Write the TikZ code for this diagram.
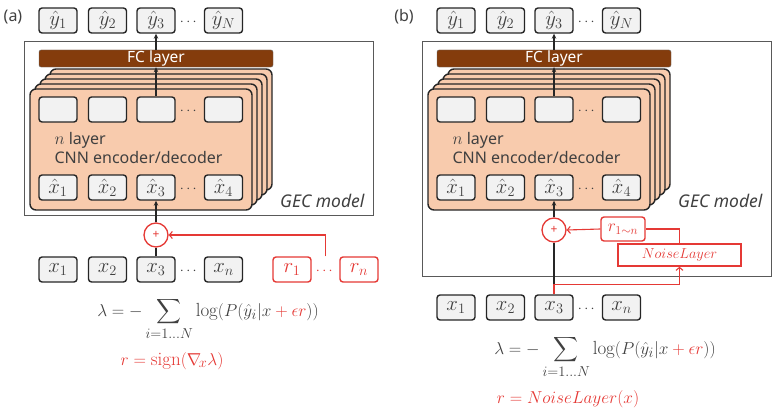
\documentclass[tikz,border=0pt]{standalone}
\usepackage{fontspec}
\setsansfont{Noto Sans}
\usepackage{amsmath}
\usetikzlibrary{arrows.meta}
\definecolor{peach}{HTML}{F8CBAD}
\definecolor{fcbrown}{HTML}{843C0C}
\definecolor{advred}{HTML}{E53935}
\definecolor{inkgray}{HTML}{404040}

\begin{document}
\begin{tikzpicture}[
        x=1pt, y=-1pt,
        every node/.style={text=inkgray},
        token/.style={
          draw=black!85, line width=1.4pt, rounded corners=3pt,
          fill=black!5, minimum width=38pt, minimum height=25pt,
          inner sep=0pt, font=\fontsize{20}{22}\selectfont,
        },
        noise token/.style={
          token, draw=advred, fill=white, text=advred,
        },
        layer sheet/.style={
          draw=black!85, line width=1.4pt, rounded corners=6pt, fill=peach,
        },
        fc layer/.style={
          draw=black!60, fill=fcbrown, rounded corners=2pt, text=white,
          minimum width=234pt, minimum height=17pt, inner sep=0pt,
          font=\sffamily\fontsize{15.5}{17}\selectfont,
        },
        model box/.style={
          draw=black!65, line width=1pt,
        },
        adder/.style={
          circle, draw=advred, line width=1.3pt, fill=white, text=advred,
          minimum size=24pt, inner sep=0pt,
          font=\sffamily\fontsize{12}{13}\selectfont,
        },
        flow/.style={
          draw=black!85, line width=1.1pt, -{Stealth[length=5pt, width=4.5pt]},
        },
        noise flow/.style={
          draw=advred, line width=1.1pt, -{Straight Barb[length=3pt, width=7pt]},
        },
        plain text/.style={
          font=\sffamily\fontsize{16}{19}\selectfont,
        },
        dots/.style={
          inner sep=0pt, font=\fontsize{15}{17}\selectfont,
        },
        formula/.style={
          font=\fontsize{19}{22}\selectfont,
        },
        ]
        \useasboundingbox (0,0) rectangle (773,412);

        % (a) adversarial perturbation
        \node [plain text] (taga) at (13,17) {(a)};
        \draw [model box] (24,42) rectangle (373,215);
        \node [token] (ya1) at (58,20.5) {$\hat{y}_1$};
        \node [token] (ya2) at (107.5,20.5) {$\hat{y}_2$};
        \node [token] (ya3) at (156,20.5) {$\hat{y}_3$};
        \node [dots] (yda) at (189.5,22) {$\cdots$};
        \node [token] (yaN) at (223.5,20.5) {$\hat{y}_N$};
        \node [fc layer] (fca) at (156,58.5) {FC layer};
        \draw [layer sheet] (50,69) rectangle (272,190);
        \draw [layer sheet] (45,74) rectangle (267,195);
        \draw [layer sheet] (40,79) rectangle (262,200);
        \draw [layer sheet] (35,84) rectangle (257,205);
        \draw [layer sheet] (30,89) rectangle (252,210);
        \node [token] (ha1) at (58,109.5) {};
        \node [token] (ha2) at (107.5,109.5) {};
        \node [token] (ha3) at (156,109.5) {};
        \node [dots] (hda) at (189.5,111) {$\cdots$};
        \node [token] (haN) at (223.5,109.5) {};
        \node [plain text, anchor=west, align=left] (enca) at (51,148)
          {$n$ layer\\CNN encoder/decoder};
        \node [token] (xha1) at (58,187.5) {$\hat{x}_1$};
        \node [token] (xha2) at (107.5,187.5) {$\hat{x}_2$};
        \node [token] (xha3) at (156,187.5) {$\hat{x}_3$};
        \node [dots] (xhda) at (189.5,189) {$\cdots$};
        \node [token] (xha4) at (223.5,187.5) {$\hat{x}_4$};
        \node [plain text, font=\sffamily\itshape\fontsize{17.5}{20}\selectfont,
          anchor=east] (geca) at (368,201) {GEC model};
        \node [adder] (pa) at (156,235) {+};
        \node [token] (xa1) at (58,269.5) {$x_1$};
        \node [token] (xa2) at (107.5,269.5) {$x_2$};
        \node [token] (xa3) at (156,269.5) {$x_3$};
        \node [dots] (xda) at (189.5,271) {$\cdots$};
        \node [token] (xan) at (223.5,269.5) {$x_n$};
        \node [noise token] (ra1) at (292,269.5) {$r_1$};
        \node [dots, text=advred] (rda) at (325.5,271) {$\cdots$};
        \node [noise token] (ran) at (359,269.5) {$r_n$};
        \coordinate (rjoin) at (rda |- ra1.north);
        \draw [flow] (ha3.north) -- (fca.south);
        \draw [flow] (fca.north) -- (ya3.south);
        \draw [draw=black!85, line width=1.1pt] (xa3.north) -- (pa.south);
        \draw [flow] (pa.north) -- (xha3.south);
        \draw [noise flow] (rjoin) |- (pa.east);
        \node [formula, inner sep=0pt] (lossa) at (208,319)
          {$\displaystyle \lambda = -\sum_{i=1\ldots N} \log(P(\hat{y}_i|x
          \mathbin{\color{advred}+} {\color{advred}\epsilon r}))$};
        \node [formula, text=advred, inner sep=0pt] (signa) at (172,361)
          {$r = \operatorname{sign}(\nabla_{\!x}\lambda)$};

        % (b) noise layer
        \begin{scope}[xshift=398pt]
        \node [plain text] (tagb) at (6,17) {(b)};
        \draw [model box] (24,42) rectangle (373,276);
        \node [token] (yb1) at (58,20.5) {$\hat{y}_1$};
        \node [token] (yb2) at (107.5,20.5) {$\hat{y}_2$};
        \node [token] (yb3) at (156,20.5) {$\hat{y}_3$};
        \node [dots] (ydb) at (189.5,22) {$\cdots$};
        \node [token] (ybN) at (223.5,20.5) {$\hat{y}_N$};
        \node [fc layer] (fcb) at (156,58.5) {FC layer};
        \draw [layer sheet] (50,69) rectangle (272,190);
        \draw [layer sheet] (45,74) rectangle (267,195);
        \draw [layer sheet] (40,79) rectangle (262,200);
        \draw [layer sheet] (35,84) rectangle (257,205);
        \draw [layer sheet] (30,89) rectangle (252,210);
        \node [token] (hb1) at (58,109.5) {};
        \node [token] (hb2) at (107.5,109.5) {};
        \node [token] (hb3) at (156,109.5) {};
        \node [dots] (hdb) at (189.5,111) {$\cdots$};
        \node [token] (hbN) at (223.5,109.5) {};
        \node [plain text, anchor=west, align=left] (encb) at (51,148)
          {$n$ layer\\CNN encoder/decoder};
        \node [token] (xhb1) at (58,187.5) {$\hat{x}_1$};
        \node [token] (xhb2) at (107.5,187.5) {$\hat{x}_2$};
        \node [token] (xhb3) at (156,187.5) {$\hat{x}_3$};
        \node [dots] (xhdb) at (189.5,189) {$\cdots$};
        \node [token] (xhb4) at (223.5,187.5) {$\hat{x}_4$};
        \node [plain text, font=\sffamily\itshape\fontsize{17.5}{20}\selectfont,
          anchor=east] (gecb) at (368,201) {GEC model};
        \node [adder] (pb) at (156,230) {+};
        \node [noise token, minimum width=44pt, minimum height=24pt,
          font=\fontsize{18}{20}\selectfont] (rb) at (225,229) {$r_{1\sim n}$};
        \node [noise token, rounded corners=0pt, minimum width=123pt,
          minimum height=22pt, font=\fontsize{15.5}{18}\selectfont] (noiseb)
          at (281.5,255) {$NoiseLayer$};
        \node [token] (xb1) at (58,307.5) {$x_1$};
        \node [token] (xb2) at (107.5,307.5) {$x_2$};
        \node [token] (xb3) at (156,307.5) {$x_3$};
        \node [dots] (xdb) at (189.5,309) {$\cdots$};
        \node [token] (xbn) at (223.5,307.5) {$x_n$};
        \draw [flow] (hb3.north) -- (fcb.south);
        \draw [flow] (fcb.north) -- (yb3.south);
        \draw [draw=black!85, line width=1.1pt] (xb3.north) -- (pb.south);
        \draw [flow] (pb.north) -- (xhb3.south);
        \draw [noise flow] (xb3.north) -- ++(0,-10) -| (noiseb.south);
        \draw [draw=advred, line width=1.1pt] (noiseb.north) |- (rb.east);
        \draw [noise flow] (rb.west) -- (pb.east);
        \node [formula, inner sep=0pt] (lossb) at (207,357)
          {$\displaystyle \lambda = -\sum_{i=1\ldots N} \log(P(\hat{y}_i|x
          \mathbin{\color{advred}+} {\color{advred}\epsilon r}))$};
        \node [formula, text=advred, inner sep=0pt] (noiseeq) at (170,399)
          {$r = NoiseLayer(x)$};
        \end{scope}
      \end{tikzpicture}
\end{document}
